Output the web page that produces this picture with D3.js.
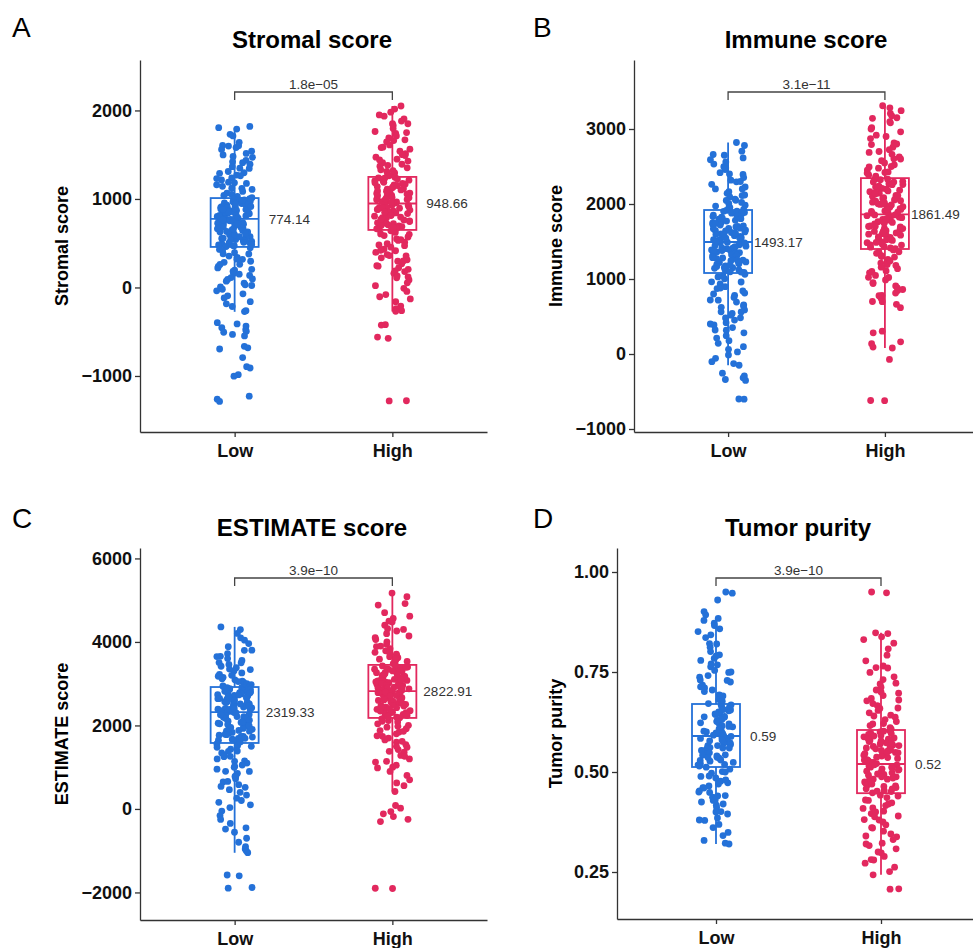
<!DOCTYPE html>
<html>
<head>
<meta charset="utf-8">
<script src="https://cdn.jsdelivr.net/npm/d3@7"></script>
<style>
  body { margin: 0; background: #fff; }
  svg { font-family: "Liberation Sans", Arial, sans-serif; }
  .axis path, .axis line { stroke: #333; stroke-width: 1.3; }
  .axis text { fill: #111; font-weight: bold; }
</style>
</head>
<body>
<svg id="chart" width="973" height="948"></svg>
<script>
// categories and labels
const groups = ['Low', 'High'];
const letters = ['A', 'B', 'C', 'D'];
const titles = ['Stromal score', 'Immune score', 'ESTIMATE score', 'Tumor purity'];
const pValues = ['1.8e\u221205', '3.1e\u221211', '3.9e\u221210', '3.9e\u221210'];
const yTicks = [[-1000, 0, 1000, 2000], [-1000, 0, 1000, 2000, 3000], [-2000, 0, 2000, 4000, 6000], [0.25, 0.50, 0.75, 1.00]];
const yDomains = [[-1633, 2570], [-1040, 3920], [-2660, 6250], [0.1325, 1.06]];

// box statistics [Low, High]
const whiskerLow = [[-275, -272], [-150, 80], [-1050, 418], [0.320, 0.243]];
const q1 = [[458, 650], [1080, 1400], [1580, 2180], [0.5125, 0.447]];
const medians = [[774.14, 948.66], [1493.17, 1861.49], [2319.33, 2822.91], [0.59, 0.52]];
const q3 = [[1010, 1249], [1920, 2345], [2920, 3450], [0.670, 0.605]];
const whiskerHigh = [[1805, 2050], [2820, 3310], [4360, 5170], [0.860, 0.848]];

// points (estimated)
const stromalLow = [1820, 1805, 1790, 1730, 1712, 1640, 1605, 1598, 1580, 1540, 1515, 1498, 1470, 1436, 1420, 1392, 1365, 1348, 1310, 1296, 1270, 1262, 1238, 1215, 1190, 1182, 1160, 1143, 1121, 1108, 1085, 1066, 1052, 1040, 1028, 1015, 1004, 998, 990, 982, 975, 968, 955, 948, 941, 930, 924, 912, 905, 898, 886, 880, 871, 866, 858, 850, 846, 838, 829, 822, 815, 808, 803, 799, 792, 784, 776, 770, 761, 754, 745, 737, 726, 718, 712, 701, 694, 683, 676, 665, 652, 645, 633, 626, 612, 604, 595, 581, 574, 566, 553, 541, 534, 522, 510, 503, 492, 481, 472, 463, 448, 430, 415, 392, 378, 355, 341, 318, 296, 284, 262, 238, 221, 196, 182, 158, 136, 112, 96, 71, 48, 22, 5, -38, -72, -95, -118, -160, -185, -215, -262, -272, -398, -412, -436, -455, -478, -495, -506, -530, -548, -665, -682, -695, -792, -895, -910, -985, -1002, -1228, -1262, -1288,
  985, 962, 938, 915, 893, 870, 852, 833, 812, 796, 781, 765, 748, 732, 715, 698, 680, 662, 645, 628, 611, 592, 574, 556, 538, 520, 503, 486, 470, 1120, 1175, 1230, 1290, 1345, 1410, 1480, 1560, 1600, 380, 320, 260, 205, 150, 90, 30, -20, 660, 720, 880, 940];
const stromalHigh = [2050, 2015, 1980, 1935, 1905, 1880, 1850, 1830, 1795, 1762, 1740, 1712, 1690, 1668, 1645, 1610, 1585, 1562, 1540, 1512, 1490, 1472, 1450, 1428, 1410, 1392, 1370, 1352, 1330, 1312, 1294, 1276, 1262, 1245, 1238, 1226, 1212, 1200, 1188, 1175, 1166, 1152, 1140, 1128, 1115, 1102, 1090, 1078, 1066, 1055, 1040, 1031, 1018, 1006, 995, 986, 975, 966, 958, 950, 938, 928, 916, 905, 896, 882, 874, 862, 850, 842, 830, 818, 806, 795, 784, 775, 762, 752, 741, 730, 721, 708, 696, 688, 676, 667, 658, 640, 622, 605, 586, 570, 548, 531, 512, 494, 472, 455, 432, 415, 396, 372, 356, 335, 312, 296, 268, 246, 222, 205, 186, 160, 132, 110, 85, 52, 20, -10, -45, -80, -105, -130, -160, -210, -240, -262, -270, -420, -425, -560, -575, -1280, -1282,
  1235, 1205, 1182, 1158, 1135, 1110, 1088, 1062, 1040, 1015, 992, 970, 948, 925, 902, 880, 858, 835, 812, 790, 768, 745, 722, 700, 678, 662, 1320, 1380, 1440, 1500, 1580, 1660, 1750, 1850, 1950, 600, 540, 480, 420, 360, 300, 240, 180, 120, 1000, 960, 900, 850];
const immuneLow = [2820, 2780, 2705, 2660, 2615, 2590, 2532, 2498, 2460, 2418, 2395, 2352, 2318, 2296, 2262, 2228, 2201, 2165, 2143, 2112, 2094, 2066, 2048, 2021, 2008, 1985, 1972, 1955, 1942, 1928, 1915, 1902, 1888, 1878, 1860, 1851, 1832, 1824, 1808, 1798, 1782, 1772, 1755, 1748, 1728, 1720, 1702, 1695, 1678, 1670, 1652, 1645, 1628, 1620, 1602, 1595, 1578, 1568, 1550, 1542, 1525, 1518, 1502, 1490, 1482, 1465, 1455, 1438, 1430, 1412, 1405, 1388, 1378, 1360, 1352, 1335, 1325, 1308, 1298, 1280, 1272, 1252, 1245, 1228, 1220, 1202, 1195, 1176, 1168, 1150, 1142, 1124, 1115, 1096, 1088, 1062, 1028, 1003, 962, 934, 898, 872, 840, 812, 783, 755, 718, 692, 655, 622, 588, 562, 540, 518, 482, 452, 418, 388, 352, 318, 282, 245, 212, 178, 142, 98, 62, 28, -12, -58, -102, -128, -150, -255, -292, -318, -340, -352, -600, -602,
  1905, 1870, 1838, 1805, 1772, 1740, 1708, 1675, 1642, 1610, 1578, 1545, 1512, 1480, 1448, 1415, 1382, 1350, 1318, 1285, 1252, 1220, 1188, 1155, 1122, 1092, 2050, 2120, 2200, 2300, 2400, 2480, 2560, 2650, 1040, 960, 880, 800, 720, 640, 560, 480, 400, 320, 1600, 1500, 1420, 1380];
const immuneHigh = [3310, 3282, 3245, 3208, 3176, 3142, 3098, 3082, 3018, 2962, 2918, 2872, 2815, 2792, 2758, 2724, 2688, 2662, 2628, 2602, 2578, 2548, 2522, 2495, 2478, 2452, 2428, 2412, 2388, 2372, 2352, 2338, 2325, 2302, 2292, 2270, 2260, 2238, 2228, 2208, 2198, 2175, 2165, 2145, 2135, 2115, 2105, 2085, 2075, 2055, 2045, 2025, 2015, 1995, 1988, 1968, 1958, 1938, 1928, 1908, 1898, 1878, 1866, 1855, 1845, 1825, 1815, 1795, 1785, 1765, 1755, 1735, 1725, 1705, 1695, 1675, 1665, 1645, 1635, 1615, 1605, 1585, 1575, 1555, 1545, 1525, 1515, 1495, 1485, 1465, 1455, 1435, 1425, 1405, 1388, 1362, 1342, 1315, 1292, 1262, 1242, 1212, 1192, 1158, 1138, 1108, 1082, 1048, 1022, 988, 952, 908, 882, 848, 812, 778, 742, 698, 662, 618, 305, 282, 162, 138, 92, 80, -72, -620, -622,
  2330, 2295, 2258, 2222, 2185, 2148, 2112, 2075, 2038, 2002, 1965, 1928, 1892, 1855, 1818, 1782, 1745, 1708, 1672, 1635, 1598, 1562, 1525, 1488, 1452, 1415, 2420, 2500, 2600, 2700, 2800, 2900, 3000, 3150, 1360, 1300, 1240, 1180, 1100, 1020, 940, 860, 780, 700, 2000, 1900, 1800, 1700];
const estimateLow = [4360, 4295, 4205, 4098, 4042, 3962, 3885, 3802, 3718, 3655, 3602, 3558, 3505, 3462, 3418, 3382, 3338, 3302, 3258, 3222, 3178, 3152, 3118, 3092, 3058, 3032, 3002, 2978, 2948, 2932, 2912, 2892, 2882, 2860, 2848, 2828, 2818, 2798, 2788, 2768, 2755, 2735, 2722, 2705, 2692, 2672, 2662, 2640, 2630, 2610, 2600, 2580, 2568, 2548, 2538, 2518, 2505, 2485, 2475, 2452, 2442, 2422, 2410, 2390, 2380, 2355, 2338, 2308, 2292, 2262, 2242, 2212, 2195, 2168, 2148, 2118, 2100, 2070, 2052, 2022, 2002, 1975, 1958, 1928, 1908, 1880, 1862, 1832, 1815, 1788, 1768, 1738, 1722, 1692, 1672, 1645, 1628, 1598, 1558, 1522, 1478, 1432, 1388, 1342, 1288, 1252, 1198, 1152, 1098, 1052, 998, 952, 898, 852, 788, 722, 648, 582, 518, 462, 398, 332, 258, 202, 158, 98, 32, -52, -158, -252, -348, -452, -482, -558, -702, -798, -902, -958, -1002, -1048, -1582, -1602, -1882, -1898,
  2905, 2862, 2818, 2775, 2732, 2688, 2645, 2602, 2558, 2515, 2472, 2428, 2385, 2342, 2298, 2255, 2212, 2168, 2125, 2082, 2038, 1995, 1952, 1908, 1865, 1822, 1778, 1735, 1692, 1648, 1605, 3050, 3200, 3350, 3500, 3650, 3800, 1500, 1380, 1260, 1140, 1020, 900, 780, 660, 540, 2400, 2300];
const estimateHigh = [5170, 5082, 4918, 4882, 4702, 4618, 4562, 4478, 4402, 4318, 4262, 4198, 4142, 4058, 4002, 3942, 3888, 3842, 3788, 3752, 3708, 3682, 3648, 3622, 3588, 3562, 3532, 3512, 3482, 3468, 3438, 3425, 3398, 3385, 3358, 3345, 3318, 3305, 3278, 3265, 3238, 3225, 3198, 3185, 3158, 3145, 3118, 3105, 3078, 3065, 3038, 3025, 2998, 2985, 2958, 2945, 2918, 2905, 2878, 2865, 2838, 2825, 2798, 2785, 2758, 2745, 2718, 2705, 2678, 2665, 2638, 2625, 2598, 2585, 2558, 2545, 2518, 2505, 2478, 2465, 2438, 2425, 2398, 2385, 2358, 2345, 2318, 2305, 2278, 2265, 2238, 2225, 2198, 2185, 2158, 2118, 2082, 2038, 2002, 1958, 1922, 1878, 1842, 1798, 1752, 1698, 1652, 1598, 1542, 1478, 1422, 1358, 1282, 1198, 1122, 1048, 982, 898, 802, 698, 622, 558, 418, 82, 18, -62, -118, -182, -248, -302, -1900, -1905,
  3435, 3392, 3348, 3305, 3262, 3218, 3175, 3132, 3088, 3045, 3002, 2958, 2915, 2872, 2828, 2785, 2742, 2698, 2655, 2612, 2568, 2525, 2482, 2438, 2395, 2352, 2308, 2265, 2222, 3600, 3750, 3900, 4100, 4300, 4500, 2100, 1980, 1860, 1740, 1620, 1500, 1380, 1260, 1140, 1000, 2900, 2800, 2700];
const purityLow = [0.950, 0.947, 0.930, 0.901, 0.893, 0.884, 0.879, 0.872, 0.866, 0.858, 0.851, 0.843, 0.836, 0.821, 0.812, 0.801, 0.793, 0.784, 0.779, 0.768, 0.763, 0.754, 0.749, 0.741, 0.737, 0.729, 0.725, 0.717, 0.713, 0.705, 0.701, 0.693, 0.689, 0.681, 0.677, 0.671, 0.668, 0.663, 0.661, 0.655, 0.653, 0.647, 0.645, 0.639, 0.637, 0.631, 0.629, 0.623, 0.621, 0.615, 0.613, 0.607, 0.605, 0.601, 0.598, 0.594, 0.592, 0.589, 0.586, 0.581, 0.579, 0.575, 0.573, 0.569, 0.566, 0.561, 0.559, 0.553, 0.551, 0.545, 0.543, 0.537, 0.535, 0.529, 0.527, 0.521, 0.519, 0.515, 0.512, 0.507, 0.501, 0.497, 0.489, 0.485, 0.477, 0.473, 0.465, 0.461, 0.453, 0.449, 0.441, 0.437, 0.429, 0.425, 0.417, 0.411, 0.401, 0.395, 0.385, 0.379, 0.369, 0.361, 0.349, 0.341, 0.329, 0.322, 0.320,
  0.668, 0.662, 0.656, 0.650, 0.644, 0.638, 0.632, 0.626, 0.620, 0.614, 0.608, 0.602, 0.596, 0.590, 0.584, 0.578, 0.572, 0.566, 0.560, 0.554, 0.548, 0.542, 0.536, 0.530, 0.524, 0.518, 0.690, 0.710, 0.730, 0.750, 0.770, 0.790, 0.820, 0.500, 0.490, 0.480, 0.470, 0.460, 0.450, 0.440, 0.430, 0.420, 0.400, 0.380, 0.600, 0.580, 0.560, 0.540];
const purityHigh = [0.950, 0.948, 0.848, 0.846, 0.838, 0.831, 0.822, 0.808, 0.792, 0.778, 0.765, 0.761, 0.749, 0.738, 0.731, 0.722, 0.712, 0.705, 0.697, 0.691, 0.684, 0.678, 0.671, 0.666, 0.659, 0.654, 0.648, 0.642, 0.637, 0.631, 0.626, 0.621, 0.616, 0.611, 0.607, 0.603, 0.600, 0.597, 0.594, 0.591, 0.588, 0.585, 0.582, 0.579, 0.576, 0.573, 0.570, 0.567, 0.564, 0.561, 0.558, 0.555, 0.552, 0.549, 0.546, 0.543, 0.540, 0.537, 0.534, 0.531, 0.528, 0.524, 0.521, 0.518, 0.515, 0.512, 0.508, 0.505, 0.502, 0.498, 0.495, 0.492, 0.488, 0.485, 0.482, 0.478, 0.475, 0.472, 0.468, 0.465, 0.461, 0.458, 0.454, 0.451, 0.448, 0.442, 0.436, 0.429, 0.423, 0.416, 0.409, 0.402, 0.396, 0.388, 0.381, 0.375, 0.368, 0.361, 0.352, 0.345, 0.338, 0.331, 0.322, 0.316, 0.308, 0.298, 0.289, 0.281, 0.272, 0.262, 0.251, 0.243, 0.208, 0.207,
  0.602, 0.596, 0.590, 0.584, 0.578, 0.572, 0.566, 0.560, 0.554, 0.548, 0.542, 0.536, 0.530, 0.524, 0.518, 0.512, 0.506, 0.500, 0.494, 0.488, 0.482, 0.476, 0.470, 0.464, 0.458, 0.452, 0.620, 0.640, 0.660, 0.680, 0.700, 0.720, 0.760, 0.440, 0.430, 0.420, 0.410, 0.400, 0.390, 0.380, 0.360, 0.340, 0.320, 0.300, 0.280, 0.550, 0.530, 0.510];

const points = [[stromalLow, stromalHigh], [immuneLow, immuneHigh], [estimateLow, estimateHigh], [purityLow, purityHigh]];

const colors = ['#2471d8', '#e2285e'];

// panel geometry
const layout = [
  {left: 140, right: 487, top: 60, bottom: 432, letterX: 12, letterY: 37, titleX: 312, titleY: 48, yTitleX: 62, bracketY: 92, labelDx: 34},
  {left: 634, right: 979, top: 60, bottom: 432, letterX: 533, letterY: 37, titleX: 806, titleY: 48, yTitleX: 556, bracketY: 92, labelDx: 26},
  {left: 140, right: 487, top: 548, bottom: 920, letterX: 12, letterY: 528, titleX: 312, titleY: 536, yTitleX: 62, bracketY: 578, labelDx: 31},
  {left: 617, right: 980, top: 548, bottom: 919, letterX: 533, letterY: 528, titleX: 798, titleY: 536, yTitleX: 556, bracketY: 578, labelDx: 34}
];

const boxWidth = 48;
const jitterHalf = 18;

// deterministic jitter offset in [-1, 1]
function jitter(i, k, p) {
  const s = Math.sin((i + 1) * 12.9898 + k * 78.233 + p * 37.719) * 43758.5453;
  return (s - Math.floor(s)) * 2 - 1;
}

const $svg = d3.select('#chart');

layout.forEach(function(L, p) {
  const $g = $svg.append('g');

  const scaleX = d3.scalePoint()
    .domain(groups)
    .range([L.left, L.right])
    .padding(0.6);

  const scaleY = d3.scaleLinear()
    .domain(yDomains[p])
    .range([L.bottom, L.top]);

  const fmt = p === 3 ? d3.format('.2f') : d3.format('d');

  // axes
  $g.append('g')
    .attr('class', 'axis')
    .attr('transform', 'translate(' + L.left + ',0)')
    .call(d3.axisLeft(scaleY).tickValues(yTicks[p]).tickFormat(fmt).tickSize(5).tickPadding(3).tickSizeOuter(0))
    .selectAll('text').style('font-size', '18px');

  $g.append('g')
    .attr('class', 'axis')
    .attr('transform', 'translate(0,' + L.bottom + ')')
    .call(d3.axisBottom(scaleX).tickSize(5).tickPadding(7).tickSizeOuter(0))
    .selectAll('text').style('font-size', '18px');

  // panel letter, title, y title
  $g.append('text')
    .attr('x', L.letterX).attr('y', L.letterY)
    .style('font-size', '28px')
    .text(letters[p]);

  $g.append('text')
    .attr('x', L.titleX).attr('y', L.titleY)
    .attr('text-anchor', 'middle')
    .style('font-size', '24px').style('font-weight', 'bold')
    .text(titles[p]);

  $g.append('text')
    .attr('transform', 'translate(' + L.yTitleX + ',' + ((L.top + L.bottom) / 2) + ') rotate(-90)')
    .attr('text-anchor', 'middle')
    .attr('dy', '0.35em')
    .style('font-size', '18px').style('font-weight', 'bold')
    .text(titles[p]);

  groups.forEach(function(grp, k) {
    const cx = scaleX(grp);
    const col = colors[k];

    // whiskers
    $g.append('line')
      .attr('x1', cx).attr('x2', cx)
      .attr('y1', scaleY(whiskerLow[p][k])).attr('y2', scaleY(q1[p][k]))
      .attr('stroke', col).attr('stroke-width', 1.8);
    $g.append('line')
      .attr('x1', cx).attr('x2', cx)
      .attr('y1', scaleY(q3[p][k])).attr('y2', scaleY(whiskerHigh[p][k]))
      .attr('stroke', col).attr('stroke-width', 1.8);

    // box
    $g.append('rect')
      .attr('x', cx - boxWidth / 2)
      .attr('y', scaleY(q3[p][k]))
      .attr('width', boxWidth)
      .attr('height', scaleY(q1[p][k]) - scaleY(q3[p][k]))
      .attr('fill', '#fff')
      .attr('stroke', col).attr('stroke-width', 1.8);
    $g.append('line')
      .attr('x1', cx - boxWidth / 2).attr('x2', cx + boxWidth / 2)
      .attr('y1', scaleY(medians[p][k])).attr('y2', scaleY(medians[p][k]))
      .attr('stroke', col).attr('stroke-width', 1.8);

    // jittered points
    $g.append('g').selectAll('circle')
      .data(points[p][k])
      .enter()
      .append('circle')
      .attr('cx', function(d, i) { return cx + jitter(i, k, p) * jitterHalf; })
      .attr('cy', function(d) { return scaleY(d); })
      .attr('r', 3.4)
      .attr('fill', col);

    // median label
    $g.append('text')
      .attr('x', cx + L.labelDx)
      .attr('y', scaleY(medians[p][k]))
      .attr('dy', '0.35em')
      .style('font-size', '13.5px')
      .style('fill', '#333')
      .text(medians[p][k]);
  });

  // significance bracket
  const x0 = scaleX(groups[0]);
  const x1 = scaleX(groups[1]);
  $g.append('path')
    .attr('d', 'M' + x0 + ',' + (L.bracketY + 8) + 'V' + L.bracketY + 'H' + x1 + 'V' + (L.bracketY + 8))
    .attr('fill', 'none')
    .attr('stroke', '#444').attr('stroke-width', 1.3);
  $g.append('text')
    .attr('x', (x0 + x1) / 2)
    .attr('y', L.bracketY - 3)
    .attr('text-anchor', 'middle')
    .style('font-size', '13.5px')
    .style('fill', '#333')
    .text(pValues[p]);
});
</script>
</body>
</html>
